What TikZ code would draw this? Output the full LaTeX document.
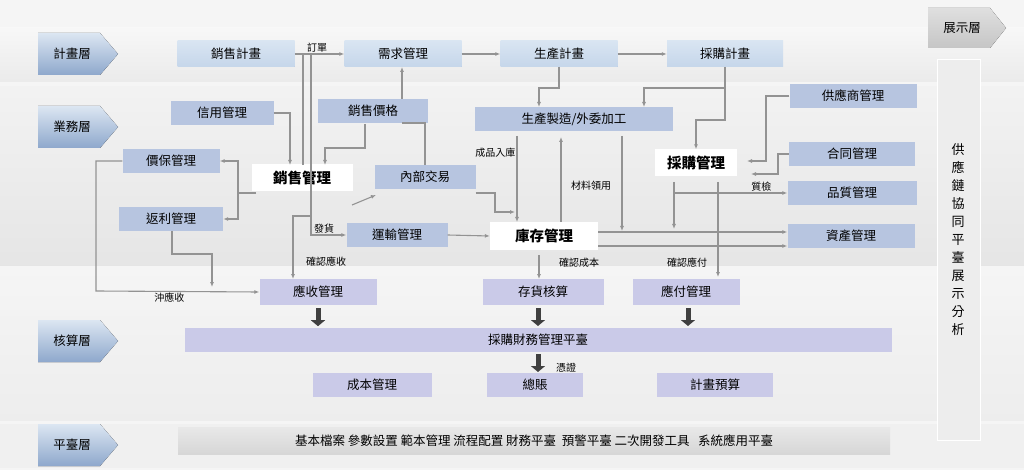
\documentclass[tikz,border=0pt]{standalone}
\usepackage{fontspec}
\setmainfont{Noto Sans CJK TC}
\usetikzlibrary{arrows.meta}
\definecolor{bizblue}{HTML}{B7C5E0}
\definecolor{planblue}{HTML}{C5D6EA}
\definecolor{planlight}{HTML}{D9E5F2}
\definecolor{acctlav}{HTML}{CACAE8}
\definecolor{layerdark}{HTML}{8EA8CC}
\definecolor{layerlight}{HTML}{DCE6F2}
\tikzset{
  box/.style={draw=none,fill=bizblue,minimum height=24pt,font=\fontsize{12.5}{14}\selectfont},
  planbox/.style={box,top color=planlight,bottom color=planblue,minimum height=26pt},
  acctbox/.style={box,fill=acctlav,minimum height=26pt},
  corebox/.style={fill=white,minimum height=27pt,font=\fontsize{14.5}{16}\selectfont\bfseries},
  lbl/.style={font=\fontsize{10}{11}\selectfont,inner sep=1pt},
  conn/.style={draw=gray!85,line width=1.1pt,-{Latex[length=5pt,width=4pt]}},
  line/.style={draw=gray!85,line width=1.1pt},
  fat/.style={line width=5pt,-{Triangle[length=6pt,width=14pt]},draw=black!75}
}
\newcommand{\layer}[3]{% name, y top, text
  \fill[top color=layerlight,bottom color=layerdark] (38,#2) -- (100,#2) -- (118,#2+21) -- (100,#2+42) -- (38,#2+42) -- cycle;
  \node[font=\fontsize{12.5}{14}\selectfont] (#1) at (72,#2+21) {#3};
}
\begin{document}
\begin{tikzpicture}[x=1pt,y=-1pt]
\useasboundingbox (0,0) rectangle (1024,470);
\fill[gray!8] (0,0) rectangle (1024,470);
% bands
\fill[top color=gray!6,bottom color=gray!16] (0,28) rectangle (1024,82);
\fill[top color=gray!10,bottom color=gray!20] (0,87) rectangle (1024,265);
\fill[top color=gray!8,bottom color=gray!14] (0,270) rectangle (1024,420);
\fill[gray!12] (0,424) rectangle (1024,468);
\layer{plan}{33}{計畫層}
\layer{biz}{106}{業務層}
\layer{acct}{320}{核算層}
\layer{plat}{424}{平臺層}
% right column
\fill[top color=gray!25,bottom color=gray!45] (928,8) -- (990,8) -- (1006,28) -- (990,48) -- (928,48) -- cycle;
\node[font=\fontsize{12.5}{14}\selectfont] (show) at (962,28) {展示層};
\draw[white,line width=1pt,fill=gray!14] (937,60) rectangle (980,440);
\node[font=\fontsize{13}{18}\selectfont,align=center] (scm) at (958,240) {供\\應\\鏈\\協\\同\\平\\臺\\展\\示\\分\\析};
% plan layer
\node[planbox,minimum width=117pt] (xsjh) at (236,54) {銷售計畫};
\node[planbox,minimum width=117pt] (xqgl) at (403,54) {需求管理};
\node[planbox,minimum width=117pt] (scjh) at (559,54) {生產計畫};
\node[planbox,minimum width=116pt] (cgjh) at (725,54) {採購計畫};
% business layer
\node[box,minimum width=103pt] (xygl) at (222,113) {信用管理};
\node[box,minimum width=110pt] (xsjg) at (373,111) {銷售價格};
\node[box,minimum width=97pt] (jbgl) at (171,161) {價保管理};
\node[corebox,minimum width=101pt] (xsgl) at (302,178) {銷售管理};
\node[box,minimum width=101pt] (nbjy) at (425,177) {內部交易};
\node[box,minimum width=104pt] (flgl) at (171,219) {返利管理};
\node[box,minimum width=101pt] (ysgl) at (397,235) {運輸管理};
\node[box,minimum width=198pt] (sczz) at (574,119) {生產製造/外委加工};
\node[box,minimum width=127pt] (gysgl) at (853,96) {供應商管理};
\node[corebox,minimum width=82pt] (cggl) at (696,163) {採購管理};
\node[box,minimum width=126pt] (htgl) at (852,154) {合同管理};
\node[box,minimum width=129pt] (pzgl) at (852,193) {品質管理};
\node[corebox,minimum width=108pt] (kcgl) at (544,236) {庫存管理};
\node[box,minimum width=127pt] (zcgl) at (851,236) {資產管理};
% accounting layer
\node[acctbox,minimum width=117pt] (yszk) at (318,292) {應收管理};
\node[acctbox,minimum width=121pt] (chhs) at (543,292) {存貨核算};
\node[acctbox,minimum width=107pt] (yfgl) at (686,292) {應付管理};
\node[acctbox,minimum width=707pt,minimum height=24pt] (cwpt) at (538,340) {採購財務管理平臺};
\node[acctbox,minimum width=119pt,minimum height=24pt] (cbgl) at (372,385) {成本管理};
\node[acctbox,minimum width=96pt,minimum height=24pt] (zz) at (535,385) {總賬};
\node[acctbox,minimum width=116pt,minimum height=24pt] (jhys) at (715,385) {計畫預算};
% platform layer
\node[box,top color=gray!18,bottom color=gray!32,minimum width=712pt,minimum height=27pt] (ptbar) at (534,441) {基本檔案\ 參數設置\ 範本管理\ 流程配置\ 財務平臺\ \ 預警平臺\ 二次開發工具\ \ \ 系統應用平臺};
% connectors
\draw[conn] (xsjh.east) -- node[lbl,above,pos=0.45] {訂單} (xqgl.west);
\draw[conn] (xqgl.east) -- (scjh.west);
\draw[conn] (scjh.east) -- (cgjh.west);
\draw[line] (303,54) -- (303,165);
\draw[conn] (311,54) -- (311,235) -- node[lbl,above left,pos=0.7] {發貨} (ysgl.west);
\draw[conn] (402,99) -- (402,67);
\draw[conn] (365,124) -- (365,148) -- (325,148) -- (325,165);
\draw[line] (402,123) -- (425,123) -- (nbjy.north);
\draw[conn] (xygl.east) -- (290,113) -- (290,165);
\draw[line] (256,193) -- (238,193);
\draw[conn] (238,193) -- (238,161) -- (jbgl.east);
\draw[conn] (238,193) -- (238,219) -- (flgl.east);
\draw[conn] (352,205) -- (376,195);
\draw[conn] (jbgl.west) -- (96,161) -- (96,291) -- node[lbl,below,pos=0.45] {沖應收} (yszk.west);
\draw[conn] (172,231) -- (172,254) -- (212,254) -- (212,287);
\draw[conn] (311,216) -- (293,216) -- (293,279);
\node[lbl] (qrys) at (326,262) {確認應收};
\draw[conn] (ysgl.east) -- (kcgl.west);
\draw[conn] (nbjy.east |- 0,193) -- (495,193) -- (495,212) -- (515,212);
\draw[conn] (517,136) -- node[lbl,left,pos=0.2] {成品入庫} (517,222);
\draw[conn] (561,222) -- (561,137);
\node[lbl] (clly) at (591,186) {材料領用};
\draw[conn] (622,136) -- (622,231);
\draw[conn] (559,67) -- (559,88) -- (539,88) -- (539,107);
\draw[conn] (725,67) -- (725,88) -- (644,88) -- (644,107);
\draw[conn] (725,88) -- (725,120) -- (696,120) -- (cggl.north);
\draw[conn] (gysgl.west) -- (766,96) -- (766,161) -- (747,161);
\draw[conn] (htgl.west) -- (778,154) -- (778,174) -- (751,174);
\draw[conn] (674,182) -- (674,229);
\draw[conn] (674,193) -- node[lbl,above,pos=0.77] {質檢} (pzgl.west);
\draw[conn] (718,182) -- (718,277);
\node[lbl] (qryf) at (687,263) {確認應付};
\draw[conn] (598,232) -- (zcgl.west |- 0,232);
\draw[conn] (598,246) -- (zcgl.west |- 0,246);
\draw[conn] (539,255) -- (539,279);
\node[lbl] (qrcb) at (579,263) {確認成本};
% thick arrows
\draw[fat] (yszk.south) ++(0,3) -- ++(0,18);
\draw[fat] (538,308) -- (538,326);
\draw[fat] (688,308) -- (688,326);
\draw[fat] (538,354) -- (538,372);
\node[lbl] (pz) at (566,368) {憑證};
\end{tikzpicture}
\end{document}
